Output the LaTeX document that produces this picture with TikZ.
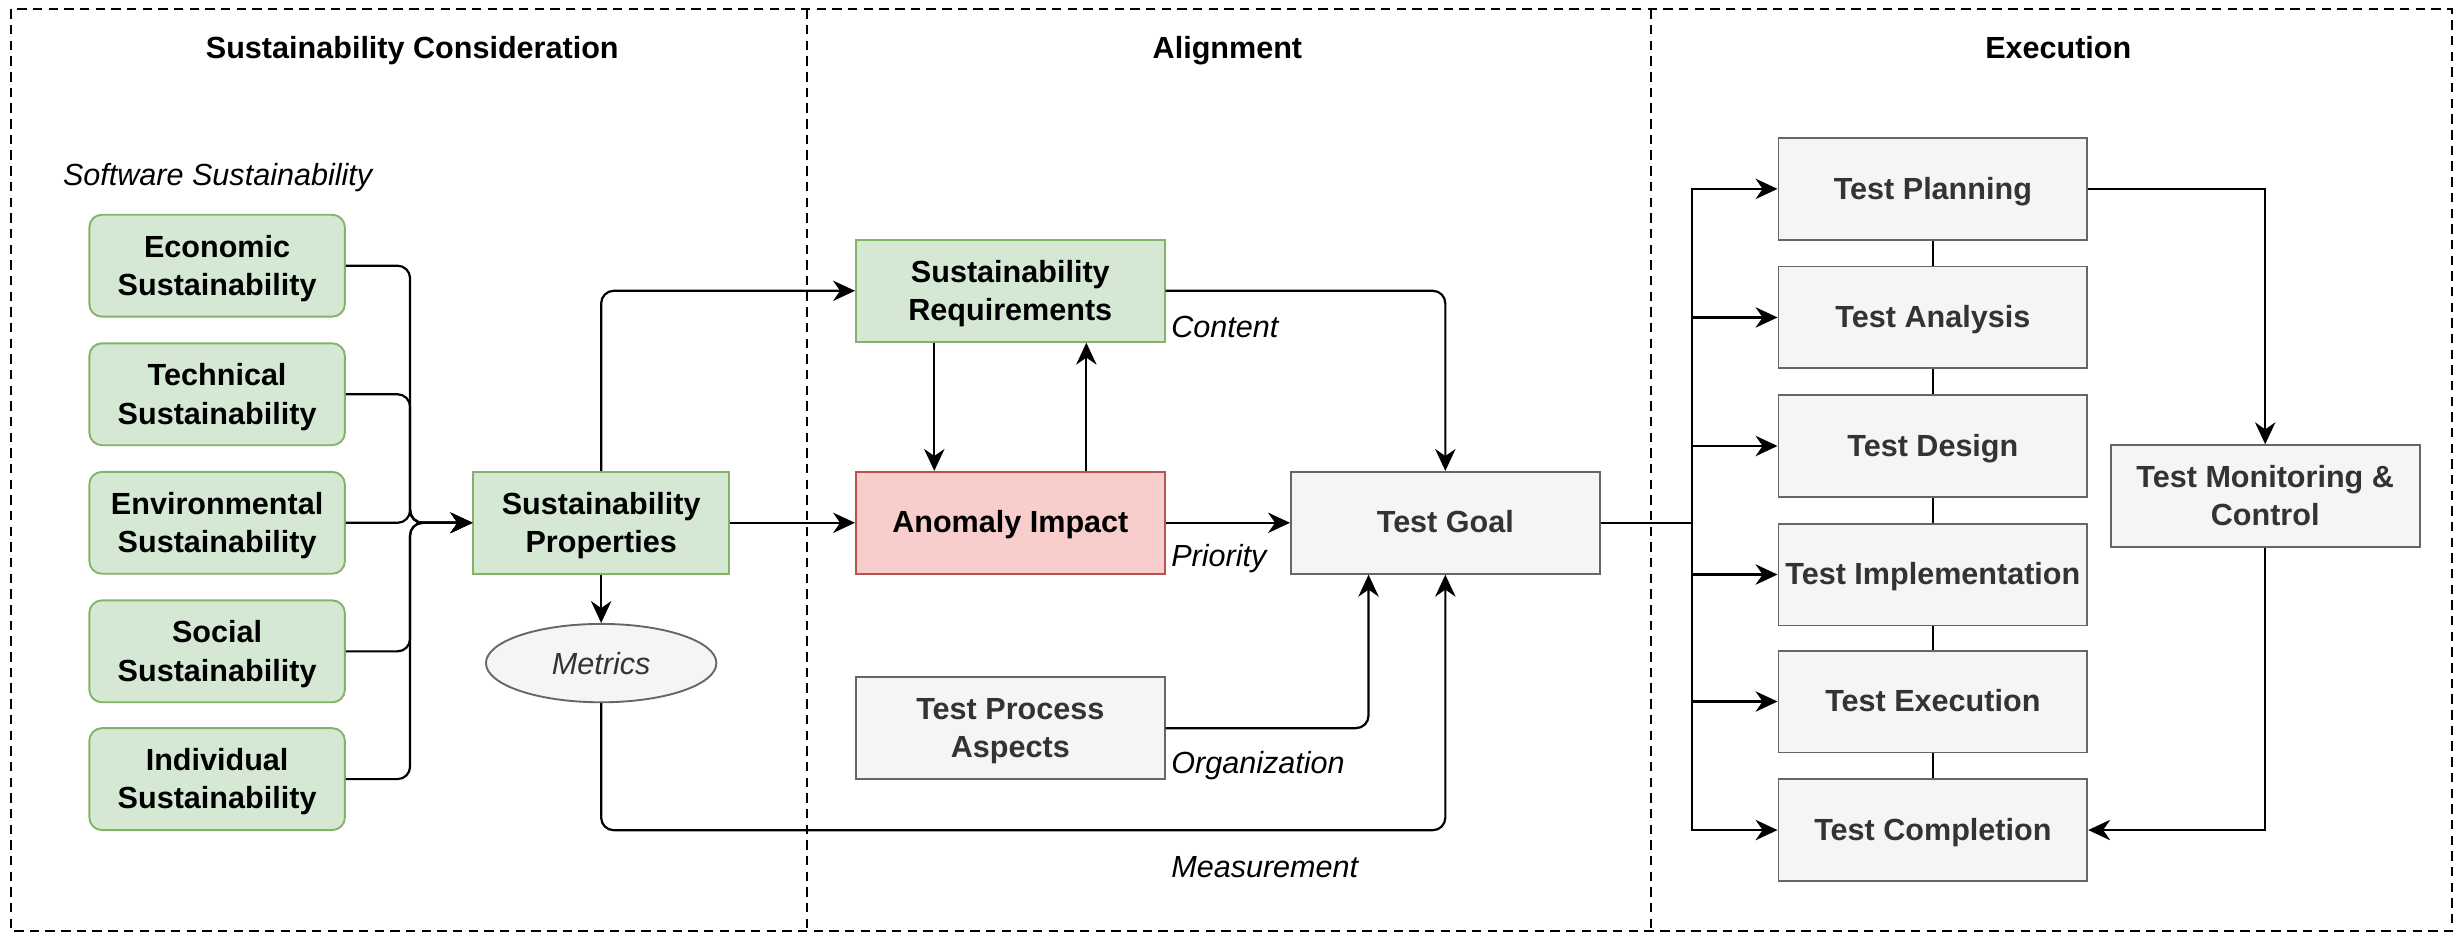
\documentclass[tikz,border=0pt]{standalone}
\usepackage{fontspec}
\setmainfont{Liberation Sans}
\usetikzlibrary{arrows.meta,shapes.geometric}

\definecolor{greenfill}{HTML}{D5E8D4}
\definecolor{greenline}{HTML}{82B366}
\definecolor{redfill}{HTML}{F8CECC}
\definecolor{redline}{HTML}{B85450}
\definecolor{greyfill}{HTML}{F5F5F5}
\definecolor{greyline}{HTML}{666666}
\definecolor{greytext}{HTML}{333333}

\tikzset{
	base/.style={draw, line width=1.2pt, align=center, inner sep=0pt,
		font=\fontsize{19.5}{24.5}\selectfont\bfseries},
	onel/.style={text height=17pt, text depth=4pt},
	twol/.style={text height=42pt, text depth=4pt},
	susbox/.style={base, twol, fill=greenfill, draw=greenline, rounded corners=8pt,
		minimum width=163pt, minimum height=65pt},
	greenbox/.style={base, twol, fill=greenfill, draw=greenline,
		minimum width=163pt, minimum height=65pt},
	redbox/.style={base, onel, fill=redfill, draw=redline,
		minimum width=197pt, minimum height=65pt},
	greybox/.style={base, onel, fill=greyfill, draw=greyline, text=greytext,
		minimum width=197pt, minimum height=65pt},
	lbl/.style={font=\fontsize{19.5}{24.5}\selectfont\itshape, inner sep=0pt,
		anchor=base west},
	head/.style={font=\fontsize{19.5}{24.5}\selectfont\bfseries, inner sep=0pt,
		anchor=base},
	conn/.style={line width=1.4pt, -{Stealth[length=14pt,width=13pt,inset=4.5pt]}},
	frame/.style={line width=1.2pt, dash pattern=on 6pt off 4pt}
}

\begin{document}
\begin{tikzpicture}[x=1pt, y=-1pt]

	\useasboundingbox (0,0) rectangle (1568,595);

	% frames
	\draw[frame] (7,6) rectangle (1564,594);
	\draw[frame] (515,6) -- (515,594);
	\draw[frame] (1053,6) -- (1053,594);

	\node[head] (hcons) at (263,37) {Sustainability Consideration};
	\node[head] (halign) at (783,37) {Alignment};
	\node[head] (hexec) at (1313,37) {Execution};

	% sustainability consideration
	\node[lbl] (lsoft) at (40,118.5) {Software Sustainability};

	\node[susbox] (eco) at (138.5,169.5) {Economic\\Sustainability};
	\node[susbox] (tech) at (138.5,251.5) {Technical\\Sustainability};
	\node[susbox] (env) at (138.5,333.5) {Environmental\\Sustainability};
	\node[susbox] (soc) at (138.5,415.5) {Social\\Sustainability};
	\node[susbox] (ind) at (138.5,497) {Individual\\Sustainability};

	\node[greenbox] (prop) at (383.5,333.5) {Sustainability\\Properties};
	\node[base, ellipse, fill=greyfill, draw=greyline, text=greytext,
		minimum width=147pt, minimum height=50pt,
		font=\fontsize{19.5}{24.5}\selectfont\itshape] (metrics) at (383.5,423) {Metrics};

	\foreach \src in {eco,tech,env,soc,ind}
		\draw[conn, rounded corners=8pt] (\src.east) -- ++(41,0) |- (prop.west);

	% alignment
	\node[greenbox, minimum width=197pt] (req) at (644.5,185.5) {Sustainability\\Requirements};
	\node[redbox] (impact) at (644.5,333.5) {Anomaly Impact};
	\node[greybox] (goal) at (922,333.5) {Test Goal};
	\node[greybox, twol] (tpa) at (644.5,464.5) {Test Process\\Aspects};

	\draw[conn, rounded corners=8pt] (prop.north) |- (req.west);
	\draw[conn] (prop.east) -- (impact.west);
	\draw[conn] (prop.south) -- (metrics.north);
	\draw[conn, rounded corners=8pt] (metrics.south) -- ++(0,81) -| (goal.south);
	\draw[conn] ([xshift=-48.5pt]req.south) -- ([xshift=-48.5pt]impact.north);
	\draw[conn] ([xshift=48.5pt]impact.north) -- ([xshift=48.5pt]req.south);
	\draw[conn, rounded corners=8pt] (req.east) -| (goal.north);
	\draw[conn] (impact.east) -- (goal.west);
	\draw[conn, rounded corners=8pt] (tpa.east) -| ([xshift=-49pt]goal.south);

	\node[lbl] (lcontent) at (747,215) {Content};
	\node[lbl] (lprio) at (747,361.5) {Priority};
	\node[lbl] (lorg) at (747,493.5) {Organization};
	\node[lbl] (lmeas) at (747,559.5) {Measurement};

	% execution
	\node[greybox] (plan) at (1233,120.5) {Test Planning};
	\node[greybox] (analysis) at (1233,202.5) {Test Analysis};
	\node[greybox] (design) at (1233,284.5) {Test Design};
	\node[greybox] (impl) at (1233,366.5) {Test Implementation};
	\node[greybox] (exec) at (1233,447.5) {Test Execution};
	\node[greybox] (compl) at (1233,529.5) {Test Completion};
	\node[greybox, twol] (monitor) at (1445,316.5) {Test Monitoring \&\\Control};

	\foreach \dst in {plan,analysis,design,impl,exec,compl}
		\draw[conn] (goal.east) -- ++(58,0) |- (\dst.west);

	\draw[line width=1.4pt] (plan) -- (analysis) -- (design) -- (impl) -- (exec) -- (compl);

	\draw[conn] (plan.east) -| (monitor.north);
	\draw[conn] (monitor.south) |- (compl.east);

\end{tikzpicture}
\end{document}
